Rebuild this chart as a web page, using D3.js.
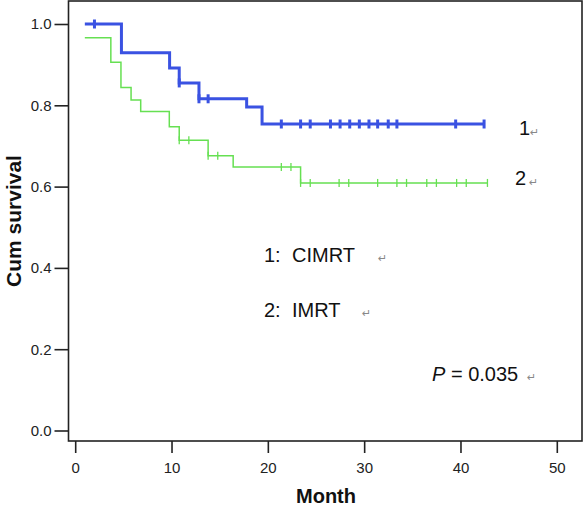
<!DOCTYPE html>
<html><head><meta charset="utf-8">
<script src="https://cdn.jsdelivr.net/npm/d3@7"></script>
<style>
body{margin:0;background:#fff;}
svg{display:block;font-family:"Liberation Sans",Arial,sans-serif;}
</style></head>
<body><svg id="c" width="584" height="507"></svg>
<script>
// Group 1 (CIMRT): Kaplan-Meier step times / survival, censor times
const g1Times = [1.0, 4.8, 9.8, 10.8, 12.85, 17.8, 19.4];
const g1Surv  = [1.0, 0.929, 0.892, 0.855, 0.816, 0.796, 0.754];
const g1Cens  = [2.0, 10.8, 12.85, 13.8, 21.4, 23.4, 24.4, 26.5, 27.5, 28.5, 29.5, 30.5, 31.4, 32.5, 33.4, 39.5, 42.45];
// Group 2 (IMRT)
const g2Times = [1.0, 3.7, 4.75, 5.8, 6.8, 9.77, 10.8, 13.8, 16.4, 23.4];
const g2Surv  = [0.966, 0.906, 0.844, 0.813, 0.785, 0.747, 0.714, 0.676, 0.648, 0.609];
const g2Cens  = [10.8, 11.8, 13.8, 14.8, 21.4, 22.4, 23.4, 24.4, 27.4, 28.4, 31.4, 33.4, 34.4, 36.5, 37.5, 39.6, 40.6, 42.8];
const xTicks = [0, 10, 20, 30, 40, 50];
const yTicks = [0.0, 0.2, 0.4, 0.6, 0.8, 1.0];

const svg = d3.select("#c");
const x = d3.scaleLinear().domain([0, 50]).range([75.2, 556.8]);
const y = d3.scaleLinear().domain([0, 1]).range([430.5, 24]);

const frame = {l: 68.5, t: 1, r: 582, b: 441};
const fnt = '"Liberation Sans",Arial,sans-serif';

// x axis
const xa = svg.append("g").attr("transform", `translate(0,${frame.b})`)
  .call(d3.axisBottom(x).tickValues(xTicks).tickFormat(d3.format("d")).tickSize(12).tickPadding(9).tickSizeOuter(0));
xa.select(".domain").remove();
xa.selectAll("line").attr("stroke", "#222").attr("stroke-width", 1.6);
xa.selectAll("text").attr("font-size", 15).attr("font-family", fnt).attr("fill", "#222");

// y axis
const ya = svg.append("g").attr("transform", `translate(${frame.l},0)`)
  .call(d3.axisLeft(y).tickValues(yTicks).tickFormat(d3.format(".1f")).tickSize(14).tickPadding(3).tickSizeOuter(0));
ya.select(".domain").remove();
ya.selectAll("line").attr("stroke", "#222").attr("stroke-width", 1.6);
ya.selectAll("text").attr("font-size", 15).attr("font-family", fnt).attr("fill", "#222");

// frame
svg.append("rect").attr("x", frame.l).attr("y", frame.t)
  .attr("width", frame.r - frame.l).attr("height", frame.b - frame.t)
  .attr("fill", "none").attr("stroke", "#222").attr("stroke-width", 1.6);

function survAt(times, surv, t) {
  let s = surv[0];
  for (let i = 0; i < times.length; i++) if (times[i] <= t + 1e-9) s = surv[i];
  return s;
}

function drawGroup(times, surv, cens, color, lw, mh, mw) {
  const endT = d3.max(cens.concat(times));
  const pts = times.map((t, i) => [t, surv[i]]);
  pts.push([endT, survAt(times, surv, endT)]);
  const line = d3.line().x(d => x(d[0])).y(d => y(d[1])).curve(d3.curveStepAfter);
  svg.append("path").datum(pts).attr("d", line)
    .attr("fill", "none").attr("stroke", color).attr("stroke-width", lw);
  svg.append("g").selectAll("line").data(cens).join("line")
    .attr("x1", d => x(d)).attr("x2", d => x(d))
    .attr("y1", d => y(survAt(times, surv, d)) - mh / 2)
    .attr("y2", d => y(survAt(times, surv, d)) + mh / 2)
    .attr("stroke", color).attr("stroke-width", mw);
}
drawGroup(g2Times, g2Surv, g2Cens, "#66e052", 1.5, 8, 1.3);
drawGroup(g1Times, g1Surv, g1Cens, "#3a52e2", 3, 9, 3);

// axis titles
svg.append("text").attr("x", 326).attr("y", 503).attr("text-anchor", "middle")
  .attr("font-size", 20).attr("font-weight", "bold").attr("fill", "#111").text("Month");
svg.append("text").attr("transform", "translate(21,221) rotate(-90)").attr("text-anchor", "middle")
  .attr("font-size", 21).attr("font-weight", "bold").attr("fill", "#111").text("Cum survival");

// annotations
const ann = svg.append("g").attr("font-size", 20).attr("fill", "#111");
ann.append("text").attr("x", 519).attr("y", 135).text("1");
ann.append("text").attr("x", 515).attr("y", 185).text("2");
ann.append("text").attr("x", 264).attr("y", 262).text("1:");
ann.append("text").attr("x", 292).attr("y", 262).text("CIMRT");
ann.append("text").attr("x", 264).attr("y", 317).text("2:");
ann.append("text").attr("x", 292).attr("y", 317).text("IMRT");
const pt = ann.append("text").attr("x", 432).attr("y", 381);
pt.append("tspan").attr("font-style", "italic").text("P");
pt.append("tspan").text(" = 0.035");

const ret = svg.append("g").attr("font-size", 11).attr("fill", "#888").attr("font-family", "DejaVu Sans");
[[530, 136], [529, 186], [378, 262], [362, 317], [527, 381]].forEach(p => {
  ret.append("text").attr("x", p[0]).attr("y", p[1]).text("\u21B5");
});
</script></body></html>
